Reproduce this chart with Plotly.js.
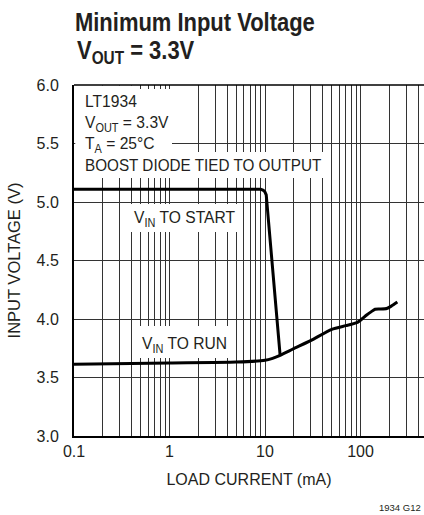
<!DOCTYPE html>
<html>
<head>
<meta charset="utf-8">
<script src="https://cdn.plot.ly/plotly-3.0.1.min.js"></script>
<style>html,body{margin:0;padding:0;background:#fff;}#chart{width:424px;height:515px;}</style>
</head>
<body>
<div id="chart"></div>
<script>
// ---- data ----
const startCurrent = [0.1, 1, 5, 9.0, 9.6, 10.0, 10.3, 14.4];
const startVoltage = [5.11, 5.11, 5.11, 5.11, 5.10, 5.085, 5.06, 3.69];
const runCurrent = [0.1, 1, 5, 10, 12, 14.4, 20, 30, 50, 70, 90, 100, 116, 130, 142, 160, 188, 210, 243];
const runVoltage = [3.613, 3.624, 3.632, 3.647, 3.664, 3.69, 3.747, 3.815, 3.912, 3.943, 3.966, 3.99, 4.034, 4.063, 4.083, 4.085, 4.09, 4.11, 4.145];
const xGridValues = [0.2,0.3,0.4,0.5,0.6,0.7,0.8,0.9,2,3,4,5,6,7,8,9,20,30,40,50,60,70,80,90,200,300,400];
const xLabelValues = [0.1, 1, 10, 100];
const xLabelText = ["0.1", "1", "10", "100"];
const yTickValues = [3.0, 3.5, 4.0, 4.5, 5.0, 5.5, 6.0];

// ---- layout helpers (pixel -> paper) ----
const L = 74, R = 424, T = 85, B = 436;
const px = v => (v - L) / (R - L);
const py = v => (B - v) / (B - T);

const FONT = "Liberation Sans, Arial, sans-serif";
const INK = "#231f20";
const GRID = "#333";

const traces = [
  {x: startCurrent, y: startVoltage, type: "scatter", mode: "lines",
   line: {color: "#000", width: 3}, hoverinfo: "skip", showlegend: false},
  {x: runCurrent, y: runVoltage, type: "scatter", mode: "lines",
   line: {color: "#000", width: 3, shape: "spline", smoothing: 0.6}, hoverinfo: "skip", showlegend: false}
];

function whiteBox(x0, x1, y0, y1) {
  return {type: "rect", xref: "paper", yref: "paper", layer: "above",
    x0: px(x0), x1: px(x1), y0: py(y1), y1: py(y0),
    fillcolor: "#fff", line: {width: 0}};
}

function label(text, x, y, size, opts) {
  return Object.assign({text: text, xref: "paper", yref: "paper", x: px(x), y: py(y),
    xanchor: "left", yanchor: "middle", showarrow: false, align: "left",
    font: {family: FONT, size: size, color: INK}}, opts || {});
}

const layout = {
  width: 424, height: 515,
  margin: {l: L, r: 424 - R, t: T, b: 515 - B, pad: 0},
  paper_bgcolor: "#fff", plot_bgcolor: "#fff",
  showlegend: false,
  title: {text: "Minimum Input Voltage", x: 75/424, xref: "container", xanchor: "left",
    y: 1 - 22/515, yref: "container", yanchor: "middle",
    font: {family: FONT, size: 26, color: INK, weight: "bold"}},
  xaxis: {type: "log", range: [-1, -1 + (R - L) / 95.5],
    tickmode: "array", tickvals: xLabelValues, ticktext: xLabelText,
    showgrid: true, gridcolor: GRID, gridwidth: 1,
    minor: {tickmode: "array", tickvals: xGridValues, showgrid: true, gridcolor: GRID, gridwidth: 1, ticks: ""},
    showline: true, linecolor: "#000", linewidth: 2, ticks: "",
    tickfont: {family: FONT, size: 16, color: INK},
    title: {text: "LOAD CURRENT (mA)", font: {family: FONT, size: 16, color: INK}, standoff: 15},
    zeroline: false, fixedrange: true},
  yaxis: {range: [3, 6], tickmode: "array", tickvals: yTickValues, tickformat: ".1f",
    showgrid: true, gridcolor: GRID, gridwidth: 1,
    showline: true, linecolor: "#000", linewidth: 2, ticks: "",
    ticklabelstandoff: 10,
    tickfont: {family: FONT, size: 16, color: INK},
    title: {text: "INPUT VOLTAGE (V)", font: {family: FONT, size: 16.5, color: INK}, standoff: 12},
    zeroline: false, fixedrange: true},
  shapes: [
    whiteBox(75.5, 136, 85.5, 152),
    whiteBox(75.5, 172, 89, 152),
    whiteBox(75.5, 323, 152, 178),
    whiteBox(130, 237, 204, 232),
    whiteBox(137, 230, 326, 358),
    {type: "line", xref: "paper", yref: "paper", x0: 0, x1: 1, y0: 1, y1: 1,
     line: {color: "#000", width: 1.5}, layer: "above"}
  ],
  annotations: [
    label("V<sub>OUT</sub> = 3.3V", 75, 51, 26, {font: {family: FONT, size: 26, color: INK, weight: "bold"}}),
    label("LT1934", 82.7, 101.2, 17),
    label("V<sub>OUT</sub> = 3.3V", 82.7, 124, 17),
    label("T<sub>A</sub> = 25°C", 82.7, 145, 17),
    label("BOOST DIODE TIED TO OUTPUT", 82.7, 165, 16.6),
    label("V<sub>IN</sub> TO START", 131.7, 218.5, 17),
    label("V<sub>IN</sub> TO RUN", 140, 345, 17),
    label("1934 G12", 423, 507.7, 9.5, {xanchor: "right", font: {family: FONT, size: 9.5, color: INK}})
  ]
};

function condense(el, s) {
  if (!el) return;
  const bb = el.getBBox();
  const prev = el.getAttribute("transform") || "";
  el.setAttribute("transform", (prev + " translate(" + bb.x + ",0) scale(" + s + ",1) translate(" + (-bb.x) + ",0)").trim());
}

Plotly.newPlot("chart", traces, layout, {staticPlot: true, displayModeBar: false}).then(gd => {
  condense(gd.querySelector(".gtitle"), 0.845);
  condense(gd.querySelector('.annotation[data-index="0"] text'), 0.845);
  for (let i = 1; i <= 6; i++) {
    condense(gd.querySelector('.annotation[data-index="' + i + '"] text'), 0.92);
  }
});
</script>
</body>
</html>
